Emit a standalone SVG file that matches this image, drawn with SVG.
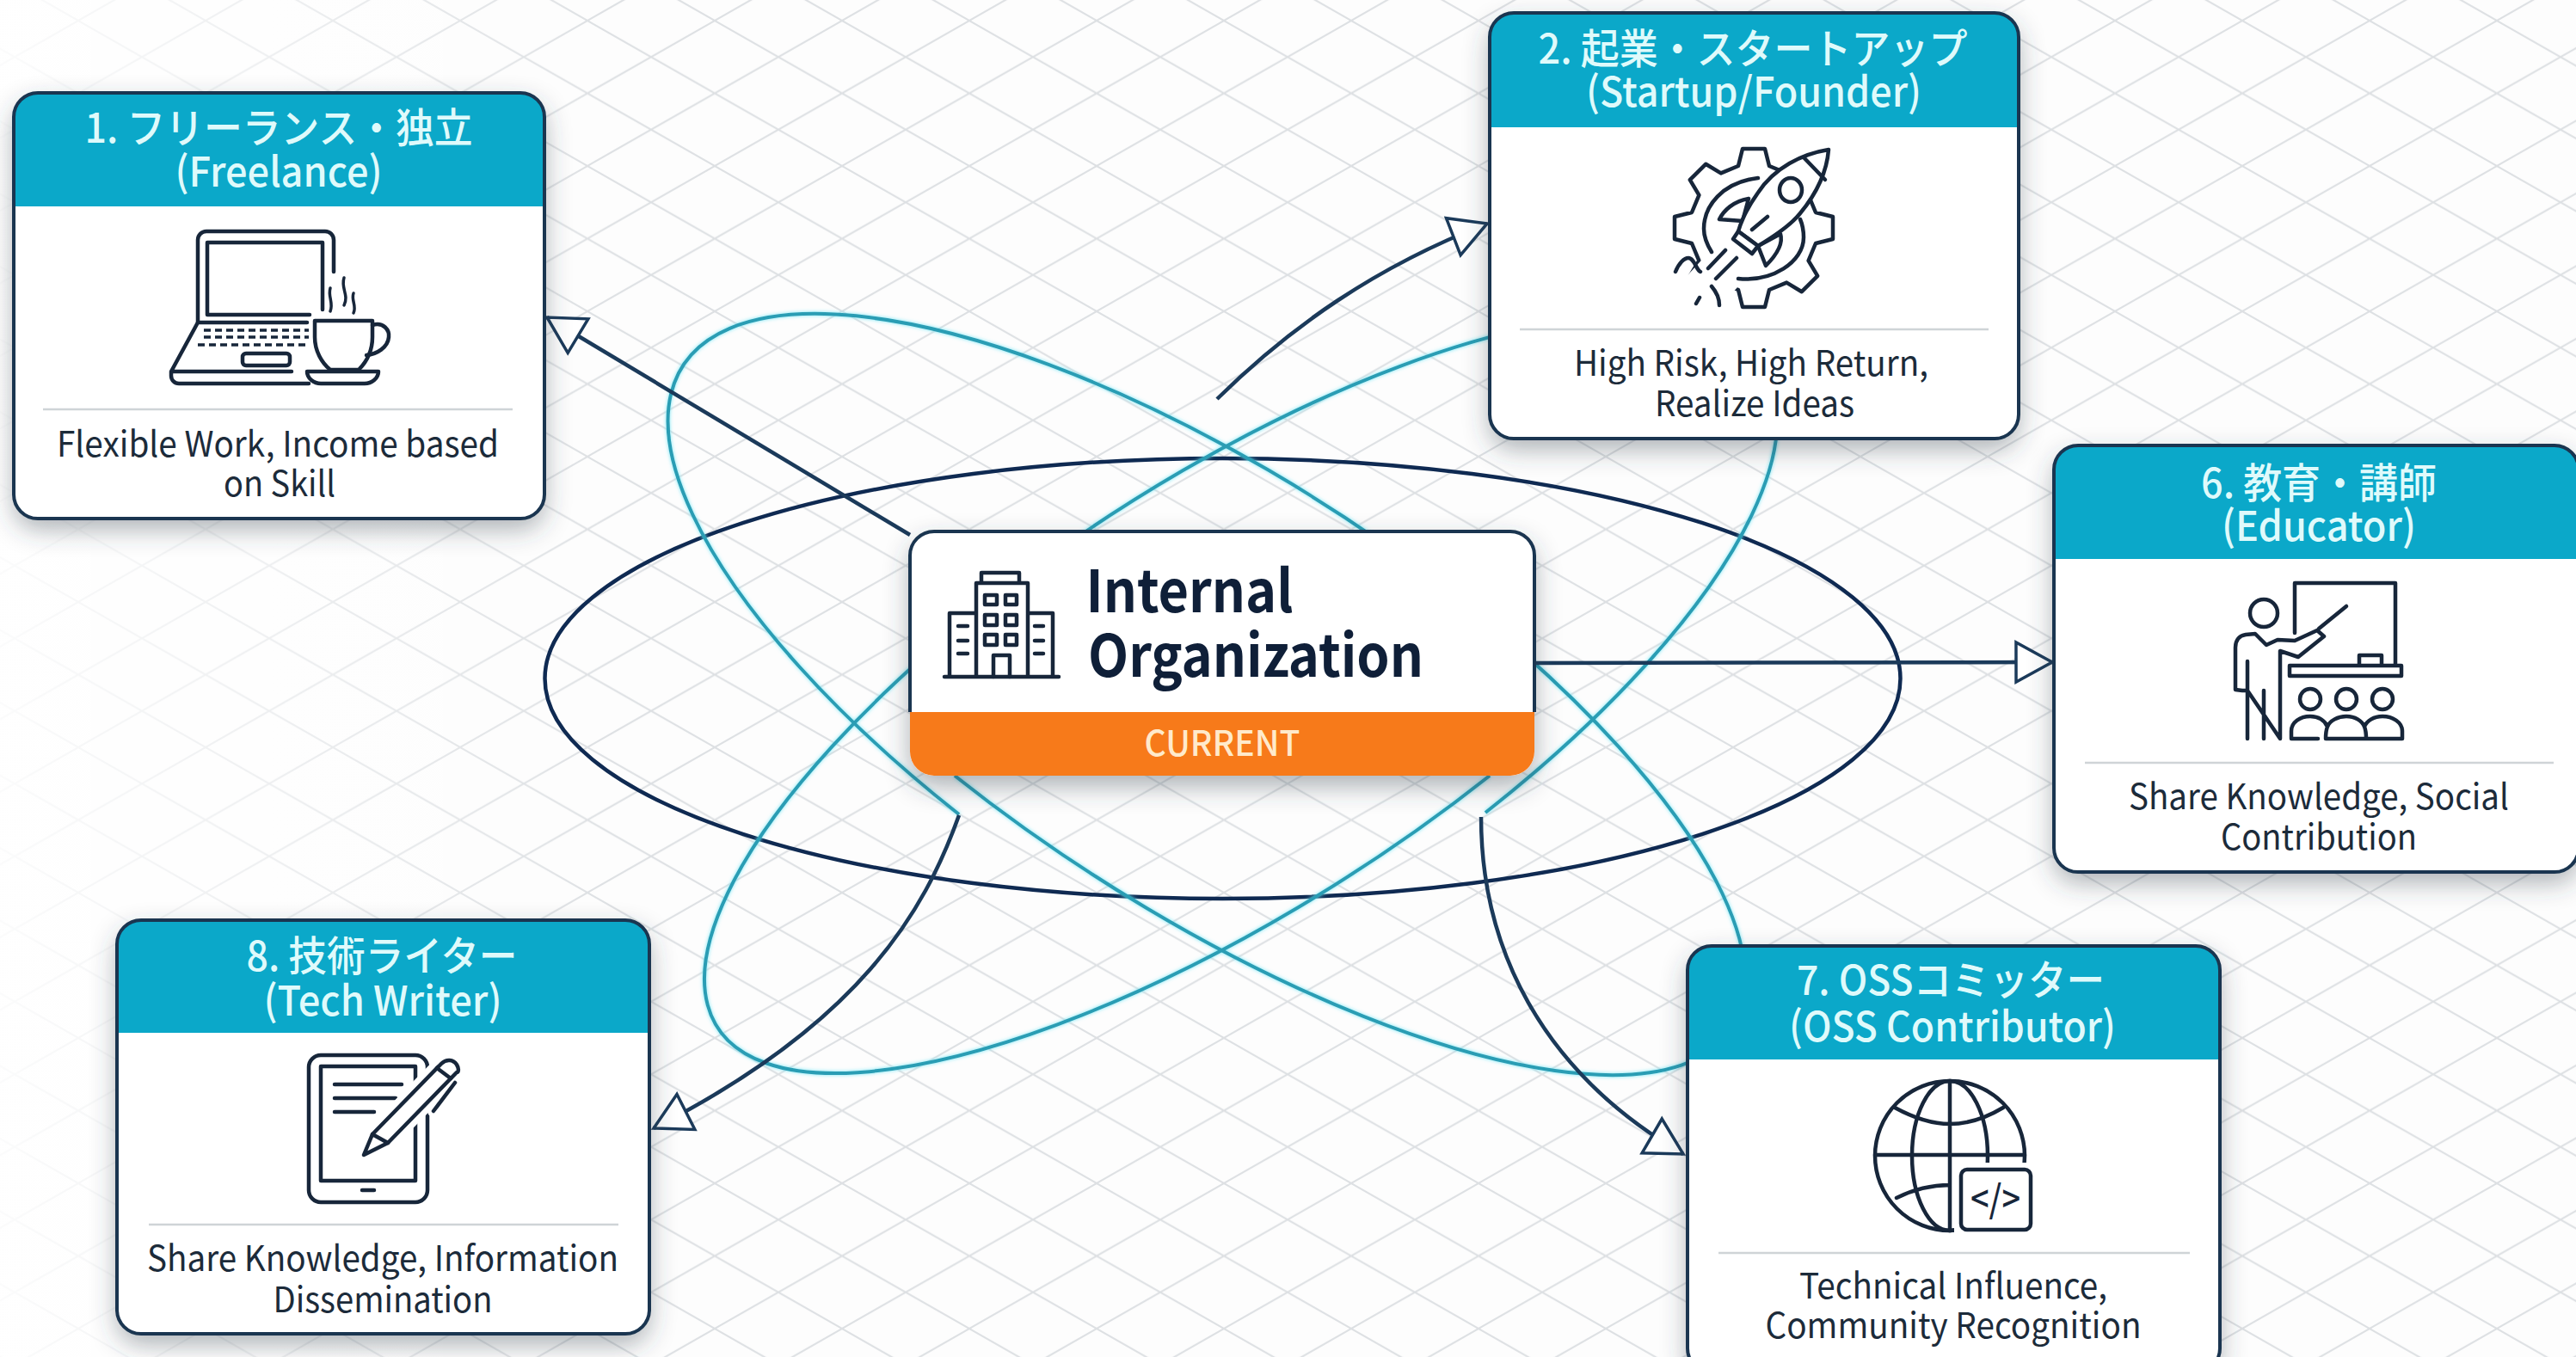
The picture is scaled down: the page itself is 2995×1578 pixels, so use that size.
<svg xmlns="http://www.w3.org/2000/svg" width="2995" height="1578" viewBox="0 0 2995 1578">
<style>
text{font-family:"Noto Sans CJK JP","Noto Sans",sans-serif;text-anchor:middle}
.t{font-size:48px;font-weight:500;fill:#dffafb}
.d{font-size:41px;font-weight:400;fill:#1c2b3a}
.card{fill:#fff;filter:url(#sh)}
.hd{fill:#0ba8c9}
.bd{fill:none;stroke:#1a3550;stroke-width:4}
.div{stroke:#cfd4d7;stroke-width:2.5}
.ic{fill:none;stroke:#17263a;stroke-width:4.5;stroke-linecap:round;stroke-linejoin:round}
.icw{fill:#fff;stroke:#17263a;stroke-width:4.5;stroke-linecap:round;stroke-linejoin:round}
.teal{fill:none;stroke:#2a9db4;stroke-width:4}
.arr{fill:none;stroke:#1b3a5a;stroke-width:4.5;marker-end:url(#head)}
</style>
<defs>
<pattern id="grid" x="91" y="24" width="148" height="84.5" patternUnits="userSpaceOnUse">
<path d="M0,0L148,84.5M0,84.5L148,0" fill="none" stroke="#dde0e3" stroke-width="2"/>
</pattern>
<linearGradient id="fade" x1="0" y1="0" x2="1" y2="0">
<stop offset="0" stop-color="#fff" stop-opacity=".88"/><stop offset="1" stop-color="#fff" stop-opacity="0"/>
</linearGradient>
<filter id="sh" x="-15%" y="-15%" width="130%" height="135%">
<feDropShadow dx="0" dy="12" stdDeviation="15" flood-color="#37434f" flood-opacity=".42"/>
</filter>
<filter id="glow" x="-5%" y="-5%" width="110%" height="110%">
<feDropShadow dx="0" dy="0" stdDeviation="2" flood-color="#66e4f5" flood-opacity=".9"/>
</filter>
<marker id="head" markerUnits="userSpaceOnUse" markerWidth="56" markerHeight="56" viewBox="-50 -28 56 56" refX="0" refY="0" orient="auto">
<path d="M0,0L-42,-23L-42,23Z" fill="#fff" stroke="#1b3a5a" stroke-width="3.5" stroke-linejoin="miter"/>
</marker>
</defs>

<rect width="2995" height="1578" fill="#fdfdfd"/>
<rect width="2995" height="1578" fill="url(#grid)"/>
<rect width="720" height="1578" fill="url(#fade)"/>

<g id="orbits">
<ellipse cx="1421.5" cy="789" rx="788" ry="256" fill="none" stroke="#0f2a52" stroke-width="4.5"/>
<g filter="url(#glow)">
<path class="teal" d="M1110,902A707 248 33 1 0 1700,700"/>
<path class="teal" d="M1700,700A707 262 33 1 0 1115,947"/>
<path class="teal" d="M1732,902A712 248 -33 1 1 1150,700"/>
<path class="teal" d="M1150,700A712 262 -33 1 1 1727,945"/>
</g>
</g>

<g id="connectors">
<path class="arr" d="M1058,622L636,369"/>
<path class="arr" d="M1415,464C1500,380 1600,310 1729,260"/>
<path class="arr" d="M1786,771L2386,770"/>
<path class="arr" d="M1722,950C1722,1100 1790,1245 1957,1342"/>
<path class="arr" d="M1115,948C1075,1060 1000,1190 760,1312"/>
</g>

<g id="node-center">
<rect class="card" x="1058" y="618" width="726" height="284" rx="28"/>
<path d="M1058,828H1784V874a28,28 0 0 1-28,28H1086a28,28 0 0 1-28-28Z" fill="#f77a1a"/>
<path class="bd" d="M1058,828V646a28,28 0 0 1 28-28H1756a28,28 0 0 1 28,28V828"/>
<g class="ic">
<path d="M1098,787H1231M1135,787V678H1195V787M1141,678V666H1185V678M1134,713H1104V787M1195,713H1224V787"/>
<rect x="1145" y="692" width="14" height="11"/><rect x="1169" y="692" width="13" height="11"/>
<rect x="1145" y="715" width="14" height="12"/><rect x="1169" y="715" width="13" height="12"/>
<rect x="1145" y="738" width="14" height="12"/><rect x="1169" y="738" width="13" height="12"/>
<path d="M1155,787V762H1174V787M1114,728H1125M1114,745H1125M1114,760H1125M1203,728H1213M1203,745H1213M1203,760H1213"/>
</g>
<text x="1383" y="712" font-size="68" font-weight="600" fill="#0f1f38" textLength="241" lengthAdjust="spacingAndGlyphs">Internal</text>
<text x="1460" y="787" font-size="68" font-weight="600" fill="#0f1f38" textLength="390" lengthAdjust="spacingAndGlyphs">Organization</text>
<text x="1421" y="879" font-size="41" font-weight="500" fill="#ffeacb" textLength="181" lengthAdjust="spacingAndGlyphs">CURRENT</text>
</g>

<g id="node-1">
<rect class="card" x="16" y="108" width="617" height="495" rx="28"/>
<path class="hd" d="M16,240V136a28,28 0 0 1 28-28H605a28,28 0 0 1 28,28V240Z"/>
<rect class="bd" x="16" y="108" width="617" height="495" rx="28"/>
<text class="t" x="324" y="166" textLength="451" lengthAdjust="spacingAndGlyphs">1. フリーランス・独立</text>
<text class="t" x="324" y="217" textLength="241" lengthAdjust="spacingAndGlyphs">(Freelance)</text>
<g class="ic">
<path d="M230,375V279a10,10 0 0 1 10-10H378a10,10 0 0 1 10,10V316M360,366H241V282H375V360"/>
<path d="M357,375H230L199,432V437a9,9 0 0 0 9,9H359M199,432H339"/>
<path d="M237,384H359M237,392H359M230,401H359" stroke-dasharray="8 5" stroke-linecap="butt" stroke-width="3.5"/>
<rect x="282" y="411" width="55" height="14" rx="4"/>
<path d="M366,373H433V392C433,410 425,422 417,430H384C374,422 366,408 366,392Z"/>
<path d="M433,378C446,374 453,384 452,392C451,404 438,412 426,413"/>
<path d="M357,432H440C440,440 432,446 424,446H373C365,446 357,440 357,432Z"/>
<path d="M384,335C381,345 388,352 384,362M400,323C396,335 406,343 400,355M411,341C408,349 415,356 411,364" stroke-width="3.5"/>
</g>
<line class="div" x1="50" y1="476" x2="596" y2="476"/>
<text class="d" x="323" y="531" textLength="514" lengthAdjust="spacingAndGlyphs">Flexible Work, Income based</text>
<text class="d" x="325" y="577" textLength="130" lengthAdjust="spacingAndGlyphs">on Skill</text>
</g>

<g id="node-2">
<rect class="card" x="1732" y="15" width="615" height="495" rx="28"/>
<path class="hd" d="M1732,148V43a28,28 0 0 1 28-28H2319a28,28 0 0 1 28,28V148Z"/>
<rect class="bd" x="1732" y="15" width="615" height="495" rx="28"/>
<text class="t" x="2038" y="74" textLength="499" lengthAdjust="spacingAndGlyphs">2. 起業・スタートアップ</text>
<text class="t" x="2039" y="124" textLength="390" lengthAdjust="spacingAndGlyphs">(Startup/Founder)</text>
<g class="ic" stroke-width="4">
<path transform="translate(2039,265)" d="M-18,-72L-13,-92L13,-92L18,-72L38.2,-63.6L55.8,-74.2L74.2,-55.8L63.6,-38.2L72,-18L92,-13L92,13L72,18L63.6,38.2L74.2,55.8L55.8,74.2L38.2,63.6L18,72L13,92L-13,92L-18,72L-38.2,63.6L-55.8,74.2L-74.2,55.8L-63.6,38.2L-72,18L-92,13L-92,-13L-72,-18L-63.6,-38.2L-74.2,-55.8L-55.8,-74.2L-38.2,-63.6Z"/>
<path d="M2018,298L1968,352" stroke="#fff" stroke-width="52" stroke-linecap="butt"/>
<path d="M2044,207C2002,212 1981,240 1981,266C1981,276 1985,285 1990,293"/>
<path d="M2021,324C2060,328 2097,305 2097,276C2097,268 2096,262 2093,255"/>
<path class="icw" d="M2033,231C2015,234 2004,245 1999,255L2026,257Z"/>
<path class="icw" d="M2070,272C2074,285 2062,300 2053,309L2044,286Z"/>
<path class="icw" d="M2126,174C2095,179 2063,195 2044,224C2032,241 2025,255 2021,269L2044,286C2064,274 2082,262 2093,248C2112,225 2124,200 2126,174Z"/>
<path d="M2097,183L2122,209"/>
<ellipse cx="2082" cy="221" rx="13" ry="14"/>
<path class="icw" d="M2021,269L2044,286L2037,295L2015,278Z"/>
<path d="M2055,252L2037,267M2006,291L1986,312M2019,300L1995,324M1948,316C1952,306 1958,300 1963,300C1970,300 1972,314 1977,316M1990,333C1996,340 1999,347 1999,355M1972,353L1976,346"/>
</g>
<line class="div" x1="1767" y1="383" x2="2312" y2="383"/>
<text class="d" x="2036" y="437" textLength="412" lengthAdjust="spacingAndGlyphs">High Risk, High Return,</text>
<text class="d" x="2040" y="484" textLength="232" lengthAdjust="spacingAndGlyphs">Realize Ideas</text>
</g>

<g id="node-6">
<rect class="card" x="2388" y="518" width="610" height="496" rx="28"/>
<path class="hd" d="M2388,650V546a28,28 0 0 1 28-28H2970a28,28 0 0 1 28,28V650Z"/>
<rect class="bd" x="2388" y="518" width="610" height="496" rx="28"/>
<text class="t" x="2696" y="579" textLength="274" lengthAdjust="spacingAndGlyphs">6. 教育・講師</text>
<text class="t" x="2696" y="629" textLength="226" lengthAdjust="spacingAndGlyphs">(Educator)</text>
<g class="ic">
<path d="M2668,736V678H2785V774M2662,774H2792V786H2662ZM2743,774V762H2769V774"/>
<ellipse cx="2632" cy="713" rx="16" ry="16"/>
<path d="M2696,731L2728,705"/>
<path d="M2613,859V769M2613,803H2607L2599,802V753C2599,744 2604,739 2611,738L2622,737L2635,750L2648,744L2668,745L2694,733L2702,740L2672,764L2651,757V859ZM2632,803V859"/>
<circle cx="2686" cy="813" r="12"/><circle cx="2728" cy="813" r="12"/><circle cx="2770" cy="813" r="12"/>
<path d="M2695,859H2664V850C2664,840 2674,833 2686,833C2696,833 2703,838 2706,845C2709,838 2718,833 2728,833C2738,833 2746,838 2749,845C2752,838 2760,833 2770,833C2782,833 2793,840 2793,850V859H2704C2704,855 2704,850 2706,845M2749,845C2751,850 2751,855 2751,859"/>
</g>
<line class="div" x1="2424" y1="887" x2="2969" y2="887"/>
<text class="d" x="2696" y="941" textLength="442" lengthAdjust="spacingAndGlyphs">Share Knowledge, Social</text>
<text class="d" x="2696" y="988" textLength="228" lengthAdjust="spacingAndGlyphs">Contribution</text>
</g>

<g id="node-7">
<rect class="card" x="1962" y="1100" width="619" height="496" rx="28"/>
<path class="hd" d="M1962,1232V1128a28,28 0 0 1 28-28H2553a28,28 0 0 1 28,28V1232Z"/>
<rect class="bd" x="1962" y="1100" width="619" height="496" rx="28"/>
<text class="t" x="2268" y="1157" textLength="358" lengthAdjust="spacingAndGlyphs">7. OSSコミッター</text>
<text class="t" x="2270" y="1211" textLength="380" lengthAdjust="spacingAndGlyphs">(OSS Contributor)</text>
<g class="ic">
<circle cx="2267" cy="1344" r="87"/>
<ellipse cx="2267" cy="1344" rx="44" ry="87"/>
<path d="M2267,1257V1431M2180,1343H2354M2203,1288C2225,1300 2245,1307 2267,1307C2289,1307 2309,1300 2329,1288M2205,1393C2225,1383 2245,1378 2267,1378"/>
<path d="M2272,1352H2370V1440H2272Z" fill="#fff" stroke="none"/>
<rect x="2280" y="1360" width="81" height="70" rx="7" fill="#fff"/>
</g>
<text x="2320" y="1410" font-size="44" font-weight="500" fill="#17263a" textLength="58" lengthAdjust="spacingAndGlyphs">&lt;/&gt;</text>
<line class="div" x1="1998" y1="1457" x2="2546" y2="1457"/>
<text class="d" x="2271" y="1510" textLength="358" lengthAdjust="spacingAndGlyphs">Technical Influence,</text>
<text class="d" x="2271" y="1556" textLength="437" lengthAdjust="spacingAndGlyphs">Community Recognition</text>
</g>

<g id="node-8">
<rect class="card" x="136" y="1070" width="619" height="481" rx="28"/>
<path class="hd" d="M136,1201V1098a28,28 0 0 1 28-28H727a28,28 0 0 1 28,28V1201Z"/>
<rect class="bd" x="136" y="1070" width="619" height="481" rx="28"/>
<text class="t" x="444" y="1129" textLength="315" lengthAdjust="spacingAndGlyphs">8. 技術ライター</text>
<text class="t" x="445" y="1181" textLength="277" lengthAdjust="spacingAndGlyphs">(Tech Writer)</text>
<g class="ic">
<rect x="359" y="1227" width="138" height="171" rx="14"/>
<rect x="373" y="1240" width="110" height="133"/>
<path d="M389,1261H467M389,1277H460M389,1293H435M421,1384H435"/>
<path d="M433,1319L513,1237C519,1231 527,1232 531,1238C534,1243 533,1247 531,1247L451,1329L423,1343Z" stroke="#fff" stroke-width="18"/>
<path d="M529,1259L504,1292" stroke="#fff" stroke-width="14"/>
<path class="icw" d="M433,1319L513,1237C519,1231 527,1232 531,1238C534,1243 533,1247 531,1247L451,1329L423,1343Z"/>
<path d="M433,1319L451,1329M508,1242L524,1254M529,1259L504,1292"/>
</g>
<line class="div" x1="173" y1="1424" x2="719" y2="1424"/>
<text class="d" x="445" y="1478" textLength="548" lengthAdjust="spacingAndGlyphs">Share Knowledge, Information</text>
<text class="d" x="445" y="1526" textLength="255" lengthAdjust="spacingAndGlyphs">Dissemination</text>
</g>
</svg>
